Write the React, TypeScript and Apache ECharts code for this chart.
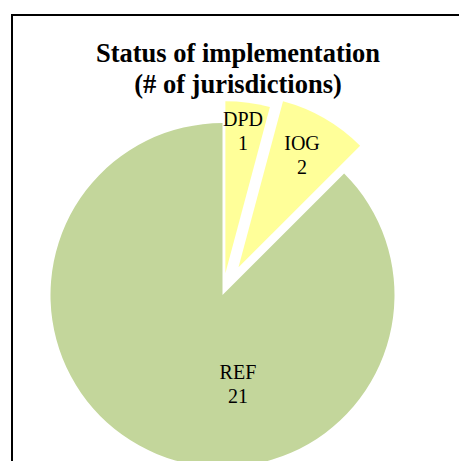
import React, { useEffect, useRef } from 'react';
import * as echarts from 'echarts';

const categories = ['DPD', 'IOG', 'REF'];
const values = [1, 2, 21];
const titleText = 'Status of implementation\n(# of jurisdictions)';

const sliceColors = ['#FFFF99', '#FFFF99', '#C3D69B'];
const explode = [22, 32, 0];
const labelShift = [
  [6, -54],
  [19, -35],
  [49.5, 6.5],
];

export default function App() {
  const ref = useRef<HTMLDivElement>(null);
  useEffect(() => {
    const chart = echarts.init(ref.current!, null, { renderer: 'svg' });
    const series = categories.map((_, k) => ({
      type: 'pie',
      center: [222.5, 295],
      radius: 172,
      startAngle: 90,
      clockwise: true,
      silent: true,
      selectedMode: explode[k] > 0 ? 'multiple' : false,
      selectedOffset: explode[k],
      avoidLabelOverlap: false,
      emphasis: { disabled: true },
      label: {
        show: true,
        position: 'inside',
        formatter: '{b}\n{c}',
        fontFamily: 'Liberation Serif',
        fontSize: 20,
        lineHeight: 24,
        color: '#000',
      },
      labelLine: { show: false },
      labelLayout: { dx: labelShift[k][0], dy: labelShift[k][1] },
      data: categories.map((name, i) => {
        const c = i === k ? sliceColors[i] : 'rgba(0,0,0,0)';
        return {
          name,
          value: values[i],
          selected: i === k && explode[k] > 0,
          itemStyle: { color: c, borderWidth: 0 },
          select: { itemStyle: { color: c, borderWidth: 0 } },
          label: { show: i === k },
        };
      }),
    }));
    chart.setOption({
      animation: false,
      backgroundColor: '#fff',
      title: {
        text: titleText,
        left: 238,
        top: 37,
        padding: 0,
        textAlign: 'center',
        textStyle: {
          fontFamily: 'Liberation Serif',
          fontWeight: 'bold',
          fontSize: 26.5,
          lineHeight: 31,
          color: '#000',
        },
      },
      graphic: [
        {
          type: 'line',
          silent: true,
          z: 100,
          shape: { x1: 11, y1: 15, x2: 470, y2: 15 },
          style: { stroke: '#000', lineWidth: 2 },
        },
        {
          type: 'line',
          silent: true,
          z: 100,
          shape: { x1: 12, y1: 14, x2: 12, y2: 470 },
          style: { stroke: '#000', lineWidth: 2 },
        },
      ],
      series,
    } as any);
    return () => chart.dispose();
  }, []);
  return (
    <div
      ref={ref}
      style={{ position: 'fixed', left: 0, top: 0, width: 459, height: 461 }}
    />
  );
}
